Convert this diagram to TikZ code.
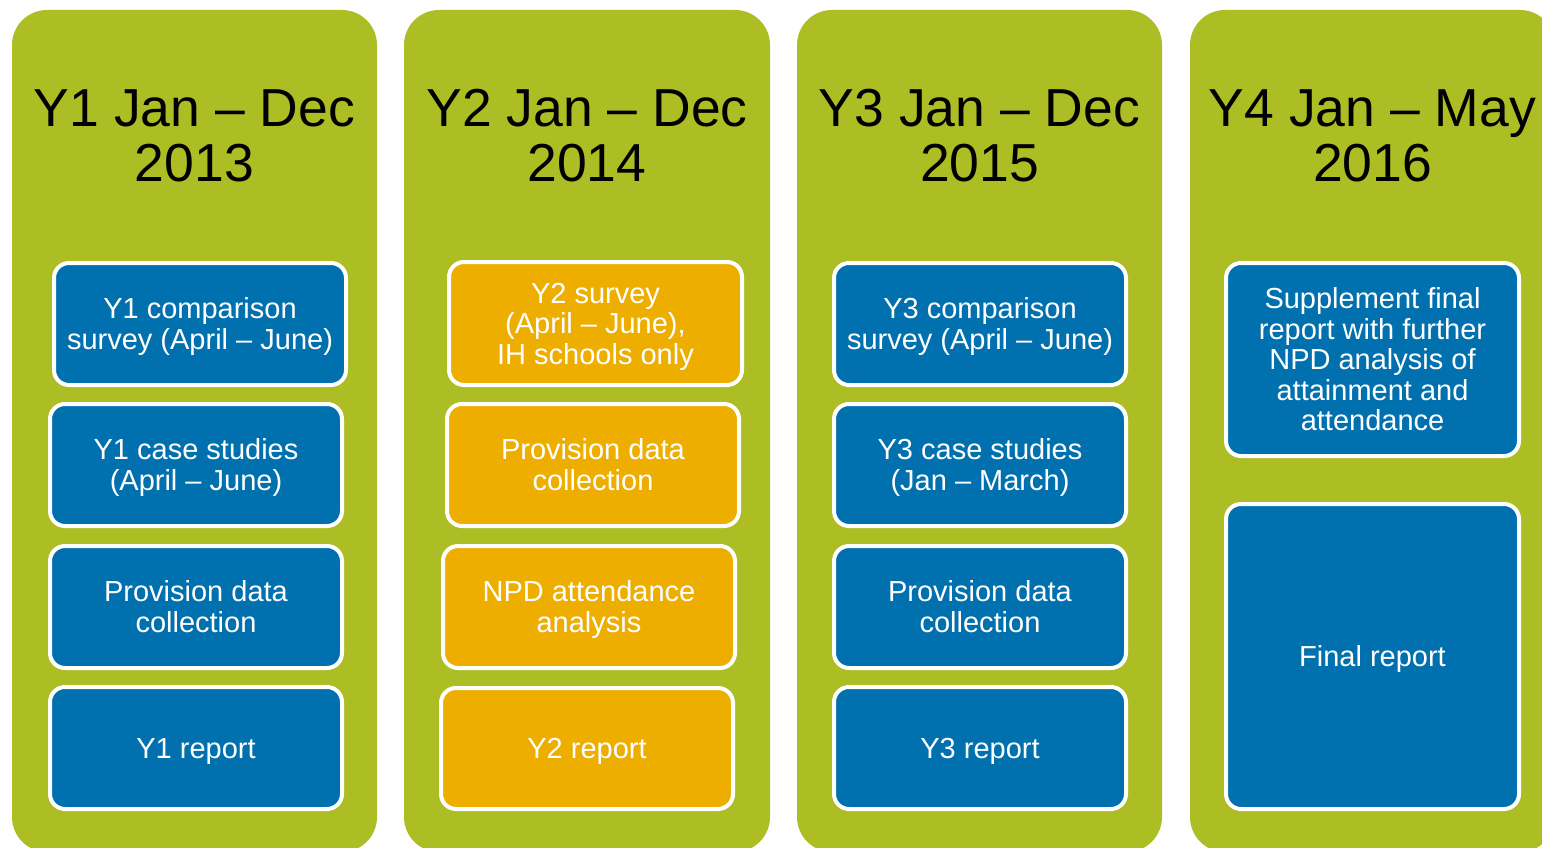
\documentclass[tikz,border=0pt]{standalone}
\usepackage{fontspec}
\setmainfont{Liberation Sans}
\definecolor{colgreen}{RGB}{173,189,36}
\definecolor{boxblue}{RGB}{0,113,174}
\definecolor{boxorange}{RGB}{237,174,0}
\newcommand\topstrut{\rule{0pt}{27pt}}
\newcommand\botstrut{\rule[-7pt]{0pt}{7pt}}
\tikzset{
  yearcol/.style={fill=colgreen, draw=none, rounded corners=35pt},
  yeartitle/.style={anchor=base, align=center, text=black, inner sep=0pt,
    font=\fontsize{53.5}{55}\selectfont},
  taskbox/.style={draw=white, line width=4pt, rounded corners=15pt,
    align=center, text=white, inner sep=0pt, outer sep=0pt,
    font=\fontsize{29}{30.5}\selectfont},
  bluebox/.style={taskbox, fill=boxblue},
  orangebox/.style={taskbox, fill=boxorange},
}
\begin{document}
\begin{tikzpicture}[x=1pt, y=-1pt]
\useasboundingbox (0,0) rectangle (1542,848);
\clip (0,0) rectangle (1542,848);
\fill[white] (0,0) rectangle (1542,848);
% columns
\fill[yearcol] (12,10) rectangle (377,852);
\fill[yearcol] (404,10) rectangle (770,852);
\fill[yearcol] (797,10) rectangle (1162,852);
\fill[yearcol] (1190,10) rectangle (1555,852);
% titles (base anchor = baseline of the last line)
\node[yeartitle] (t1) at (194.5,182) {Y1 Jan – Dec\\2013};
\node[yeartitle] (t2) at (587,182) {Y2 Jan – Dec\\2014};
\node[yeartitle] (t3) at (979.5,182) {Y3 Jan – Dec\\2015};
\node[yeartitle] (t4) at (1372.5,182) {Y4 Jan – May\\2016};
% column 1
\node[bluebox, minimum width=292pt, minimum height=122pt] (a1) at (200,324)
  {\topstrut Y1 comparison\\survey (April – June)\botstrut};
\node[bluebox, minimum width=292pt, minimum height=122pt] (a2) at (196,465)
  {\topstrut Y1 case studies\\(April – June)\botstrut};
\node[bluebox, minimum width=292pt, minimum height=122pt] (a3) at (196,607)
  {\topstrut Provision data\\collection\botstrut};
\node[bluebox, minimum width=292pt, minimum height=122pt] (a4) at (196,748)
  {\topstrut Y1 report\botstrut};
% column 2
\node[orangebox, minimum width=293pt, minimum height=123pt] (b1) at (595.5,323.5)
  {\topstrut Y2 survey\\(April – June),\\IH schools only\botstrut};
\node[orangebox, minimum width=292pt, minimum height=122pt] (b2) at (593,465)
  {\topstrut Provision data\\collection\botstrut};
\node[orangebox, minimum width=292pt, minimum height=122pt] (b3) at (589,607)
  {\topstrut NPD attendance\\analysis\botstrut};
\node[orangebox, minimum width=292pt, minimum height=121pt] (b4) at (587,748.5)
  {\topstrut Y2 report\botstrut};
% column 3
\node[bluebox, minimum width=292pt, minimum height=122pt] (c1) at (980,324)
  {\topstrut Y3 comparison\\survey (April – June)\botstrut};
\node[bluebox, minimum width=292pt, minimum height=122pt] (c2) at (980,465)
  {\topstrut Y3 case studies\\(Jan – March)\botstrut};
\node[bluebox, minimum width=292pt, minimum height=122pt] (c3) at (980,607)
  {\topstrut Provision data\\collection\botstrut};
\node[bluebox, minimum width=292pt, minimum height=122pt] (c4) at (980,748)
  {\topstrut Y3 report\botstrut};
% column 4
\node[bluebox, minimum width=293pt, minimum height=193pt] (d1) at (1372.5,359.5)
  {\topstrut Supplement final\\report with further\\NPD analysis of\\attainment and\\attendance\botstrut};
\node[bluebox, minimum width=293pt, minimum height=305pt] (d2) at (1372.5,656.5)
  {\topstrut Final report\botstrut};
\end{tikzpicture}
\end{document}
